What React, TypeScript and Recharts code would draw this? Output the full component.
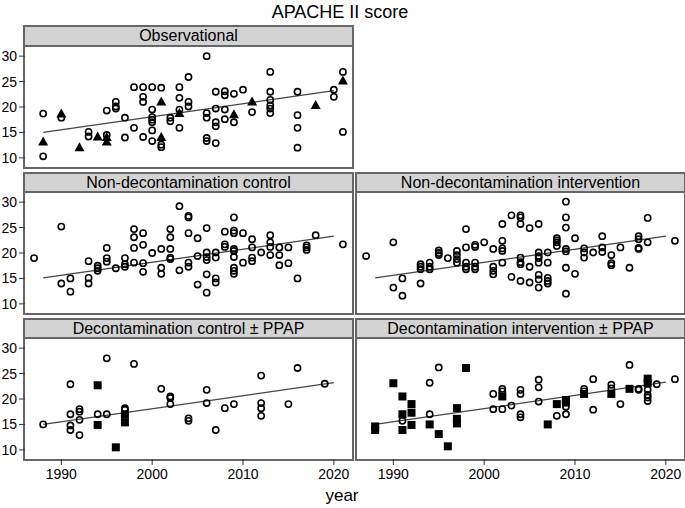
import { ScatterChart, Scatter, XAxis, YAxis } from "recharts";

type Pt = [number, number];

// [year, APACHE II score]
const obsOpen: Pt[] = [
  [1988, 18.7], [1988, 10.3], [1990, 17.9], [1993, 15.1], [1993, 14.2],
  [1995, 14.5], [1995, 19.3], [1996, 21.0], [1996, 20.1], [1996, 19.7],
  [1997, 17.9], [1997, 14.0], [1998, 23.9], [1998, 15.9],
  [1999, 23.9], [1999, 22.0], [1999, 21.0], [1999, 14.1],
  [2000, 23.9], [2000, 19.5], [2000, 18.0], [2000, 17.5], [2000, 17.0], [2000, 15.4], [2000, 13.3],
  [2001, 23.8], [2001, 12.6], [2001, 12.1], [2002, 17.9], [2002, 17.2],
  [2003, 23.9], [2003, 21.8], [2003, 19.5], [2003, 15.9],
  [2004, 25.9], [2004, 21.0], [2004, 20.1],
  [2006, 30.0], [2006, 18.8], [2006, 17.9], [2006, 13.9], [2006, 13.3],
  [2007, 23.0], [2007, 19.7], [2007, 17.0], [2007, 16.2], [2007, 12.9],
  [2008, 23.1], [2008, 22.3], [2008, 19.5], [2008, 17.6],
  [2009, 22.6], [2009, 17.0], [2010, 23.4], [2011, 19.0],
  [2013, 26.9], [2013, 23.0], [2013, 21.4], [2013, 20.3], [2013, 19.7], [2013, 18.8],
  [2016, 23.0], [2016, 18.4], [2016, 15.9], [2016, 12.0],
  [2020, 23.4], [2020, 22.0], [2021, 26.9], [2021, 15.1],
];
const obsTri: Pt[] = [
  [1988, 13.1], [1990, 18.6], [1992, 12.0], [1994, 14.1], [1995, 14.0], [1995, 13.1],
  [2001, 21.0], [2001, 14.0], [2003, 18.7], [2009, 18.5], [2011, 21.0], [2018, 20.3], [2021, 25.1],
];
const obsTrend: Pt[] = [[1988, 15.0], [2020, 23.2]];

const ndcOpen: Pt[] = [
  [1987, 19.0], [1990, 25.2], [1990, 14.0], [1991, 15.0], [1991, 12.4],
  [1993, 18.4], [1993, 15.1], [1993, 14.0], [1994, 17.5], [1994, 17.0], [1994, 16.5],
  [1995, 21.0], [1995, 19.0], [1995, 18.3], [1996, 17.0], [1997, 19.0], [1997, 17.8], [1997, 17.3],
  [1998, 24.7], [1998, 23.1], [1998, 21.0], [1998, 18.1],
  [1999, 23.9], [1999, 21.6], [1999, 18.0], [1999, 16.3], [2000, 20.0],
  [2001, 20.8], [2001, 17.1], [2001, 15.9],
  [2002, 24.7], [2002, 23.1], [2002, 20.8], [2002, 19.1], [2002, 18.8],
  [2003, 29.2], [2003, 16.6], [2004, 27.3], [2004, 27.0], [2004, 23.9], [2004, 18.1], [2004, 17.3],
  [2005, 22.9], [2005, 19.4], [2005, 13.8],
  [2006, 24.9], [2006, 20.1], [2006, 19.2], [2006, 18.6], [2006, 15.8], [2006, 12.2],
  [2007, 20.1], [2007, 19.1], [2007, 15.0], [2007, 14.2], [2008, 24.2], [2008, 21.7], [2008, 21.2],
  [2009, 27.0], [2009, 24.4], [2009, 23.9], [2009, 20.8], [2009, 20.4], [2009, 19.2], [2009, 17.1], [2009, 16.5], [2009, 15.9],
  [2010, 23.9], [2010, 18.1], [2011, 22.7], [2011, 21.1], [2011, 19.1], [2011, 18.4], [2012, 20.1],
  [2013, 23.5], [2013, 22.1], [2013, 21.2], [2013, 19.6], [2014, 21.1], [2014, 19.6], [2014, 17.6],
  [2015, 21.1], [2015, 18.0], [2016, 15.0], [2017, 21.5], [2017, 21.1], [2017, 20.6], [2018, 23.5], [2021, 21.7],
];
const ndcTrend: Pt[] = [[1988, 15.1], [2020, 23.3]];

const ndiOpen: Pt[] = [
  [1987, 19.4], [1990, 22.1], [1990, 13.2], [1991, 15.0], [1991, 11.6],
  [1993, 17.8], [1993, 17.3], [1993, 16.8], [1993, 14.0], [1994, 18.1], [1994, 17.3], [1994, 16.8],
  [1995, 20.5], [1995, 20.0], [1995, 19.6], [1996, 19.0],
  [1997, 20.4], [1997, 19.6], [1997, 18.8], [1997, 18.1],
  [1998, 24.7], [1998, 21.1], [1998, 18.1], [1998, 17.3], [1998, 16.8],
  [1999, 21.6], [1999, 21.2], [1999, 18.1], [1999, 17.3], [1999, 16.8], [2000, 22.1],
  [2001, 20.8], [2001, 17.3], [2001, 16.5], [2001, 15.8],
  [2002, 25.7], [2002, 22.4], [2002, 20.9], [2002, 20.4], [2002, 18.1], [2003, 27.4], [2003, 15.3],
  [2004, 27.4], [2004, 27.0], [2004, 25.7], [2004, 19.1], [2004, 18.2], [2004, 17.8], [2004, 14.5],
  [2005, 24.9], [2005, 17.3], [2005, 14.2],
  [2006, 25.7], [2006, 20.1], [2006, 19.4], [2006, 19.0], [2006, 18.1], [2006, 15.7], [2006, 14.8], [2006, 13.2],
  [2007, 20.1], [2007, 18.1], [2007, 15.1], [2007, 14.5], [2007, 14.0],
  [2008, 22.9], [2008, 22.5], [2008, 22.1], [2008, 21.4],
  [2009, 30.1], [2009, 27.0], [2009, 25.0], [2009, 20.8], [2009, 20.3], [2009, 17.1], [2009, 12.0],
  [2010, 22.9], [2010, 15.9], [2011, 20.9], [2011, 20.1], [2011, 19.1], [2012, 20.1],
  [2013, 23.3], [2013, 21.1], [2013, 20.2], [2014, 19.6], [2014, 18.0], [2014, 17.6],
  [2015, 21.1], [2016, 17.1], [2017, 23.3], [2017, 22.7], [2017, 21.0], [2017, 20.8],
  [2018, 26.9], [2018, 22.1], [2021, 22.4],
];
const ndiTrend: Pt[] = [[1988, 15.1], [2020, 23.3]];

const dcOpen: Pt[] = [
  [1988, 15.0], [1991, 22.9], [1991, 17.0], [1991, 14.8], [1991, 13.9],
  [1992, 18.0], [1992, 17.5], [1992, 15.9], [1992, 12.9], [1994, 17.0], [1995, 28.0], [1995, 17.0],
  [1997, 18.2], [1997, 17.9], [1998, 26.9], [2001, 22.0], [2002, 20.5], [2002, 20.2], [2002, 19.0],
  [2004, 16.2], [2004, 15.7], [2006, 21.8], [2006, 19.2], [2007, 13.9], [2008, 18.2], [2009, 19.0],
  [2012, 24.6], [2012, 19.2], [2012, 18.2], [2012, 16.7], [2015, 19.0], [2016, 26.1], [2019, 23.0],
];
const dcSquare: Pt[] = [[1994, 22.7], [1994, 14.9], [1996, 10.5], [1997, 16.9], [1997, 15.4]];
const dcTrend: Pt[] = [[1988, 15.0], [2020, 23.2]];

const diOpen: Pt[] = [
  [1991, 15.7], [1994, 23.2], [1994, 17.0], [1995, 26.2], [2001, 21.0], [2001, 18.0],
  [2002, 22.0], [2002, 21.5], [2002, 18.0], [2003, 18.7], [2004, 21.8], [2004, 21.0], [2004, 17.0], [2004, 16.4],
  [2006, 23.8], [2006, 22.3], [2006, 19.5], [2008, 16.7], [2009, 18.5], [2009, 17.0],
  [2011, 22.0], [2011, 21.5], [2012, 23.9], [2012, 17.9], [2014, 22.8], [2014, 22.1], [2015, 19.0],
  [2016, 26.7], [2017, 22.0], [2017, 21.8], [2018, 21.8], [2018, 20.8], [2018, 20.3], [2018, 19.6],
  [2019, 22.9], [2021, 23.9],
];
const diSquare: Pt[] = [
  [1988, 14.6], [1988, 13.9], [1990, 23.1], [1991, 20.5], [1991, 17.0], [1991, 13.9],
  [1992, 19.0], [1992, 17.3], [1992, 14.9], [1994, 15.0], [1995, 13.1], [1996, 10.7],
  [1997, 18.2], [1997, 16.1], [1997, 15.2], [1998, 26.1], [2002, 20.5], [2007, 15.0], [2008, 19.0],
  [2009, 19.8], [2009, 19.3], [2011, 21.0], [2014, 21.0], [2016, 22.0], [2018, 24.0], [2018, 23.1],
];
const diTrend: Pt[] = [[1988, 15.0], [2020, 23.3]];

const yearTicks = [1990, 2000, 2010, 2020];
const scoreTicks = [10, 15, 20, 25, 30];

const FONT = '"Liberation Sans", Arial, sans-serif';
const PLOT_W = 327;
const PLOT_H = 120;
const HEAD_H = 21.5;

const toRows = (pts: Pt[]) => pts.map(([x, y]) => ({ x, y }));

const OpenCircle = (p: any) => (
  <circle cx={p.cx} cy={p.cy} r={3.1} fill="none" stroke="#000" strokeWidth={1.6} />
);
const Triangle = (p: any) => (
  <polygon
    points={`${p.cx},${p.cy - 5.5} ${p.cx - 5},${p.cy + 3.5} ${p.cx + 5},${p.cy + 3.5}`}
    fill="#000"
  />
);
const Square = (p: any) => <rect x={p.cx - 4} y={p.cy - 4} width={8} height={8} fill="#000" />;
const NoMark = () => <g />;

interface PanelProps {
  title: string;
  left: number;
  top: number;
  showX: boolean;
  showY: boolean;
  open: Pt[];
  filled?: Pt[];
  filledShape?: "tri" | "sq";
  trend: Pt[];
}

function Panel({ title, left, top, showX, showY, open, filled, filledShape, trend }: PanelProps) {
  const yw = showY ? 25 : 0;
  const xh = showX ? 30 : 0;
  return (
    <>
      <div
        style={{
          position: "absolute",
          left: left - 2,
          top: top - HEAD_H,
          width: PLOT_W + 4,
          height: HEAD_H + PLOT_H + 2,
          border: "2px solid #666",
          boxSizing: "border-box",
        }}
      >
        <div
          style={{
            height: HEAD_H - 2,
            background: "#d3d3d3",
            borderBottom: "2px solid #666",
            boxSizing: "border-box",
            textAlign: "center",
            fontSize: 16,
            lineHeight: `${HEAD_H - 4}px`,
            color: "#000",
          }}
        >
          {title}
        </div>
      </div>
      <div style={{ position: "absolute", left: left - yw, top }}>
        <ScatterChart
          width={PLOT_W + yw}
          height={PLOT_H + xh}
          margin={{ top: 0, right: 0, bottom: 0, left: 0 }}
        >
          <XAxis
            type="number"
            dataKey="x"
            domain={[1986, 2022]}
            ticks={yearTicks}
            allowDataOverflow
            hide={!showX}
            height={30}
            axisLine={false}
            tickLine={{ stroke: "#333" }}
            tickSize={6}
            tickMargin={4}
            tick={{ fontSize: 14, fill: "#000", fontFamily: FONT }}
          />
          <YAxis
            type="number"
            dataKey="y"
            domain={[8.2, 31.8]}
            ticks={scoreTicks}
            allowDataOverflow
            hide={!showY}
            width={25}
            axisLine={false}
            tickLine={{ stroke: "#333" }}
            tickSize={6}
            tickMargin={2}
            tick={{ fontSize: 14, fill: "#000", fontFamily: FONT }}
          />
          <Scatter
            data={toRows(trend)}
            line={{ stroke: "#444", strokeWidth: 1.3 }}
            shape={NoMark}
            isAnimationActive={false}
          />
          <Scatter data={toRows(open)} shape={OpenCircle} isAnimationActive={false} />
          {filled && (
            <Scatter
              data={toRows(filled)}
              shape={filledShape === "tri" ? Triangle : Square}
              isAnimationActive={false}
            />
          )}
        </ScatterChart>
      </div>
    </>
  );
}

export default function App() {
  return (
    <div
      style={{
        position: "absolute",
        left: 0,
        top: 0,
        width: 685,
        height: 508,
        background: "#fff",
        fontFamily: FONT,
        color: "#000",
      }}
    >
      <div style={{ position: "absolute", left: 0, top: 1, width: 680, textAlign: "center", fontSize: 18, lineHeight: "22px" }}>
        APACHE II score
      </div>
      <Panel title="Observational" left={25} top={46.5} showX={false} showY open={obsOpen} filled={obsTri} filledShape="tri" trend={obsTrend} />
      <Panel title="Non-decontamination control" left={25} top={193} showX={false} showY open={ndcOpen} trend={ndcTrend} />
      <Panel title="Non-decontamination intervention" left={357} top={193} showX={false} showY={false} open={ndiOpen} trend={ndiTrend} />
      <Panel title="Decontamination control ± PPAP" left={25} top={339} showX showY open={dcOpen} filled={dcSquare} filledShape="sq" trend={dcTrend} />
      <Panel title="Decontamination intervention ± PPAP" left={357} top={339} showX showY={false} open={diOpen} filled={diSquare} filledShape="sq" trend={diTrend} />
      <div style={{ position: "absolute", left: 0, top: 485, width: 684, textAlign: "center", fontSize: 17, lineHeight: "22px" }}>
        year
      </div>
    </div>
  );
}
